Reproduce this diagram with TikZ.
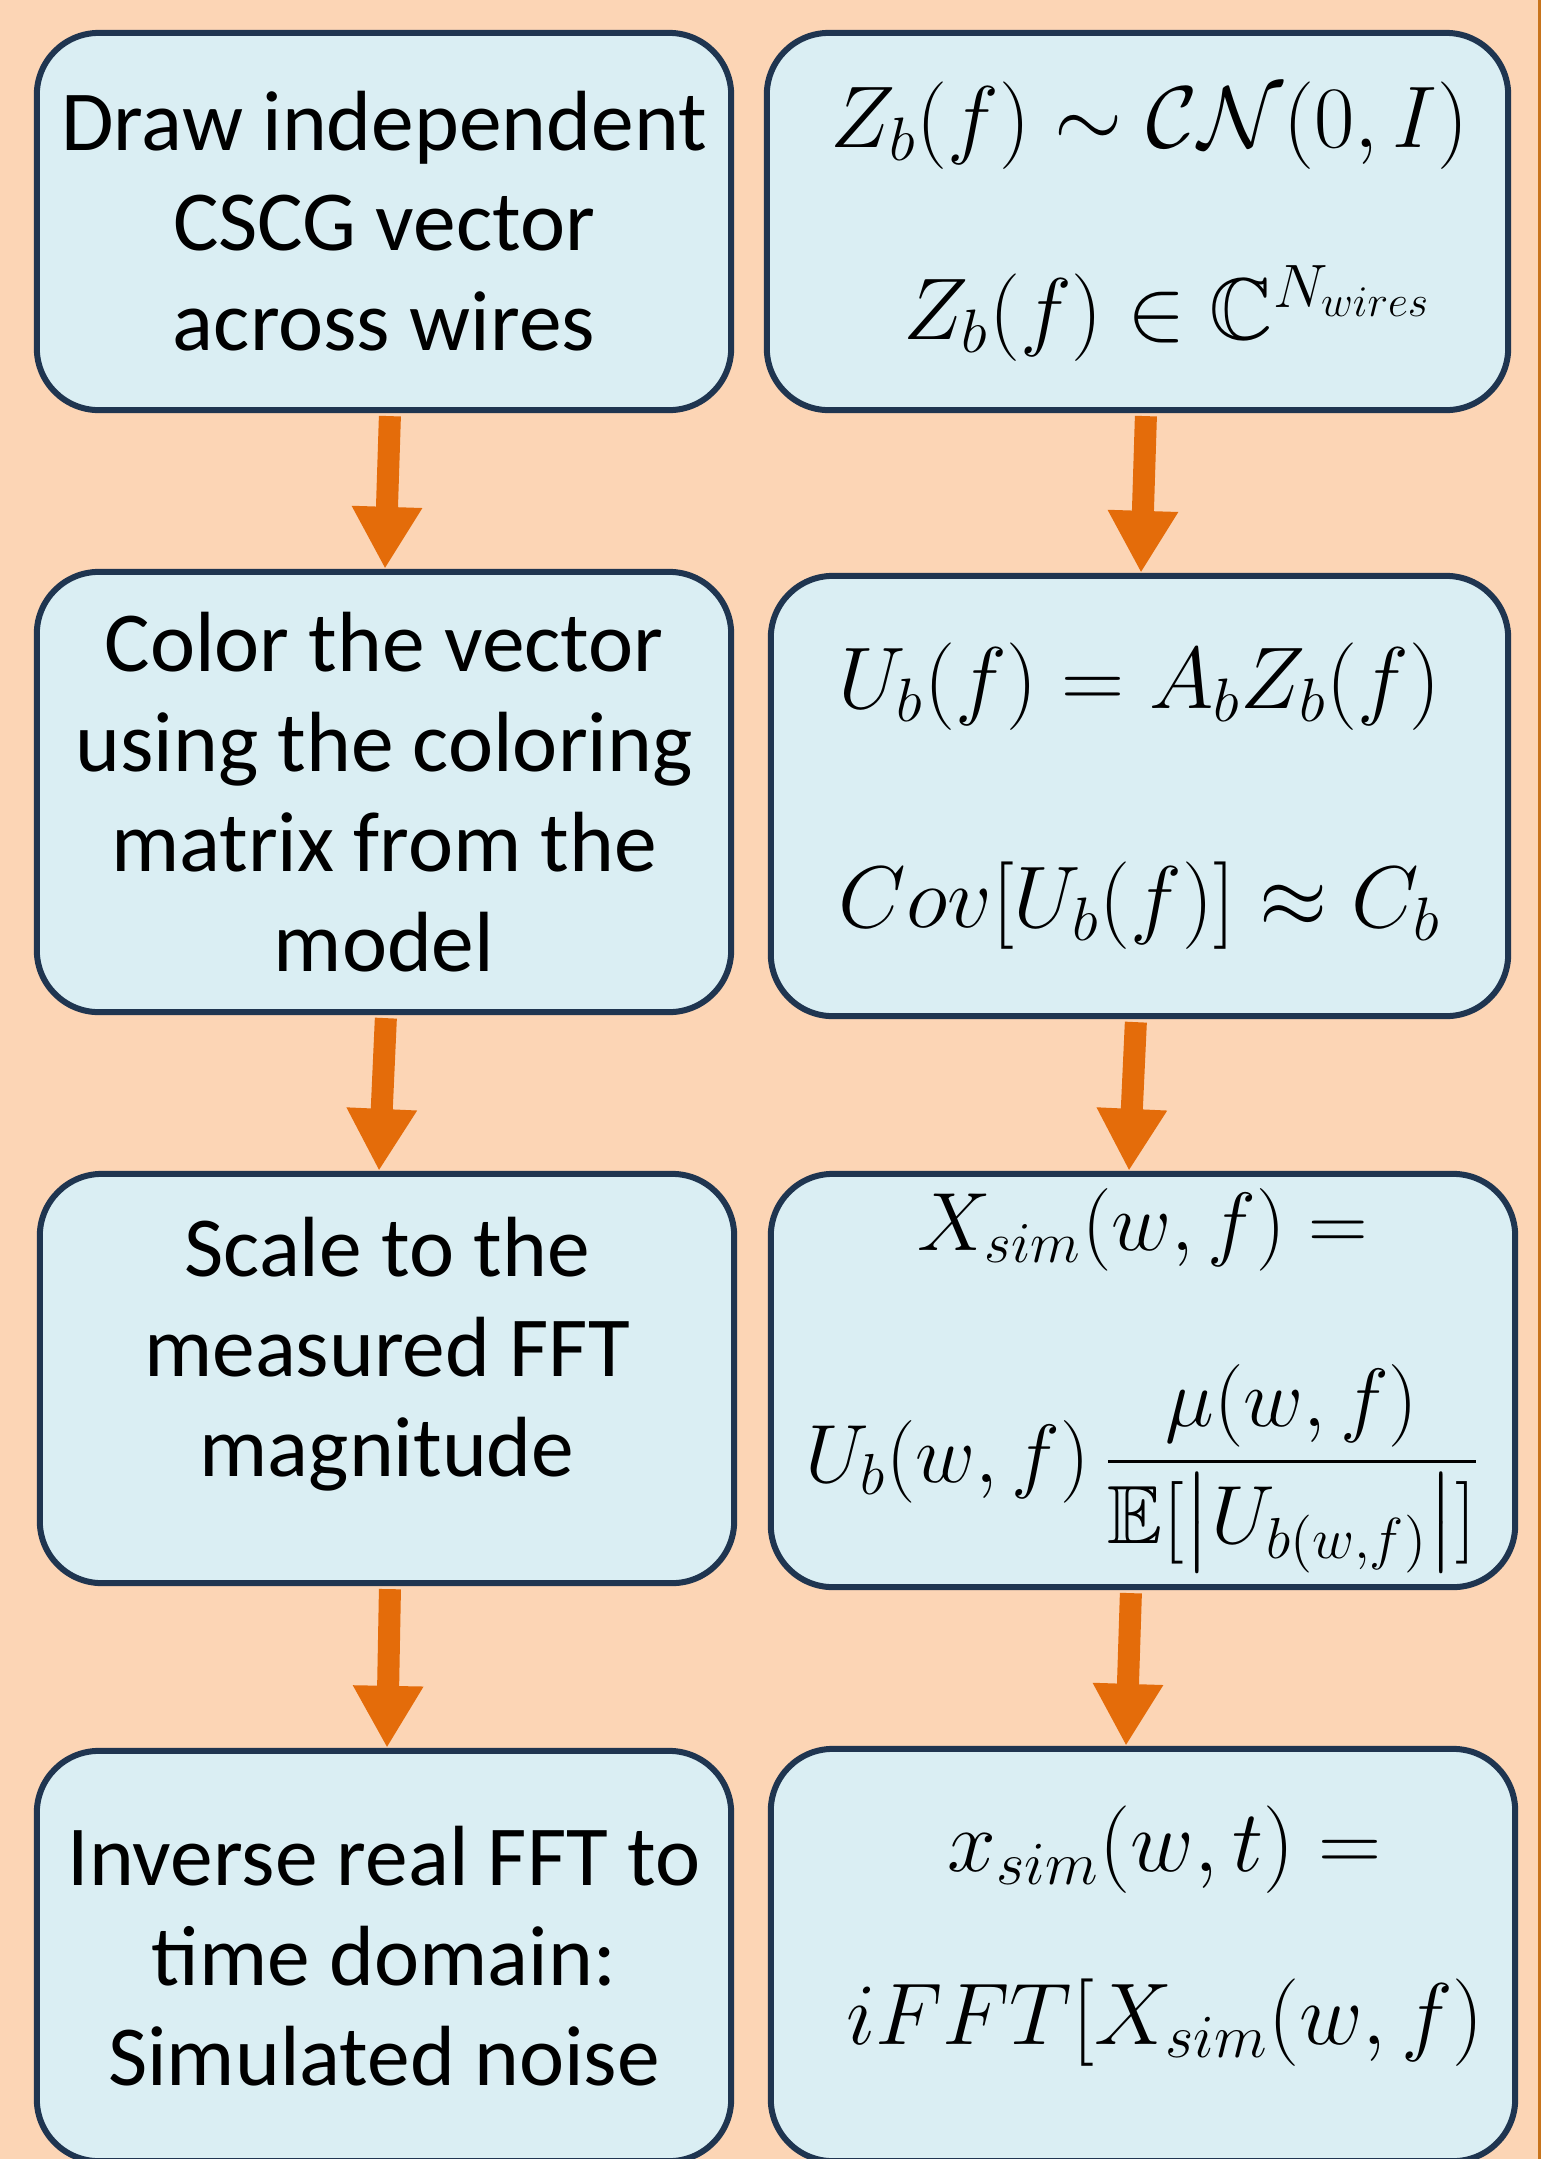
\RequirePackage{fix-cm}
\documentclass[tikz,border=0pt]{standalone}
\usepackage{amsmath,amssymb}
\usepackage{fontspec}
\setmainfont{Carlito}
\usetikzlibrary{arrows.meta}
\definecolor{peach}{HTML}{FCD5B5}
\definecolor{boxblue}{HTML}{DAEEF3}
\definecolor{navy}{HTML}{1F3550}
\definecolor{floworange}{HTML}{E46C0A}
\definecolor{edgebrown}{HTML}{C8741C}

\begin{document}
\begin{tikzpicture}[x=0.01cm,y=-0.01cm,
  stage/.style={draw=navy,fill=boxblue,line width=0.06cm,rounded corners=0.62cm,
    align=center,inner sep=0pt,font=\fontsize{24.3}{28.45}\selectfont},
  eqstage/.style={stage,font=\fontsize{24.9}{29}\selectfont},
  flow/.style={floworange,line width=0.22cm,shorten <=0.03cm,
    -{Triangle[width=0.66cm,length=0.62cm]}}]
  \useasboundingbox (0,0) rectangle (1541,2159);
  \fill[peach] (0,0) rectangle (1541,2159);
  \draw[edgebrown,line width=0.03cm] (1539.5,0) -- (1539.5,2159);

  \node[stage,minimum width=6.94cm,minimum height=3.77cm] (drw) at (384,221.5)
    {Draw independent\\CSCG vector\\across wires};
  \node[stage,minimum width=6.94cm,minimum height=4.40cm] (col) at (384,792)
    {Color the vector\\using the coloring\\matrix from the\\model};
  \node[stage,minimum width=6.94cm,minimum height=4.09cm] (scl) at (387,1378.5)
    {Scale to the\\measured FFT\\magnitude\rule[-0.64cm]{0pt}{0pt}};
  \node[stage,minimum width=6.94cm,minimum height=4.10cm] (inv) at (384,1956)
    {Inverse real FFT to\\time domain:\\Simulated noise};

  \node[eqstage,minimum width=7.41cm,minimum height=3.77cm] (zb) at (1137.5,221.5)
    {\hspace*{0.24cm}$Z_b(f)\sim\mathcal{C}\mathcal{N}(0,I)$\\[0.9cm]
     \hspace*{0.6cm}$Z_b(f)\in\mathbb{C}^{N_{wires}}$};
  \node[eqstage,minimum width=7.37cm,minimum height=4.40cm] (ub) at (1139.5,796)
    {$U_b(f)=A_bZ_b(f)$\\[1.17cm]
     $Cov[U_b(f)]\approx C_b$};
  \node[eqstage,font=\fontsize{23.5}{28}\selectfont,minimum width=7.44cm,
    minimum height=4.13cm] (xf) at (1143,1380.5)
    {$X_{sim}(w,f)=$\\[0.9cm]
     $\displaystyle U_b(w,f)\,\frac{\mu(w,f)}{\mathbb{E}[\big|U_{b(w,f)}\big|]}$};
  \node[eqstage,minimum width=7.44cm,minimum height=4.12cm] (xt) at (1143,1955)
    {\hspace*{0.44cm}$x_{sim}(w,t)=$\\[0.71cm]
     \hspace*{0.44cm}$iFFT[X_{sim}(w,f)$\rule[-0.6cm]{0pt}{0pt}};

  \draw[flow] ([xshift=0.06cm]drw.south) -- ([xshift=0.01cm]col.north);
  \draw[flow] ([xshift=0.02cm]col.south) -- ([xshift=-0.08cm]scl.north);
  \draw[flow] ([xshift=0.03cm]scl.south) -- ([xshift=0.03cm]inv.north);
  \draw[flow] ([xshift=0.085cm]zb.south) -- ([xshift=0.015cm]ub.north);
  \draw[flow] ([xshift=-0.035cm]ub.south) -- ([xshift=-0.14cm]xf.north);
  \draw[flow] ([xshift=-0.12cm]xf.south) -- ([xshift=-0.17cm]xt.north);
\end{tikzpicture}
\end{document}
